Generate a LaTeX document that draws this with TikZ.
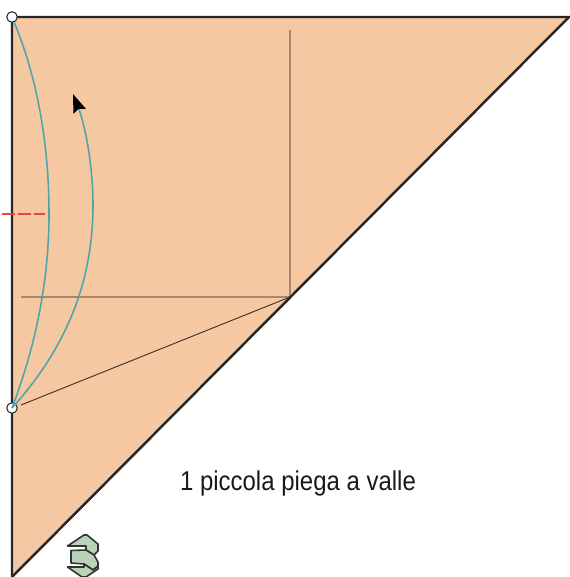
\documentclass[tikz,border=0pt]{standalone}
\usepackage{fontspec}
\setmainfont{Liberation Sans}
\usepackage{xcolor}
\definecolor{paperorange}{RGB}{245,200,162}
\definecolor{creasebrown}{RGB}{170,135,108}
\definecolor{curveteal}{RGB}{80,165,170}
\definecolor{markred}{RGB}{232,72,60}
\definecolor{icongreen}{RGB}{183,212,184}
\usetikzlibrary{arrows.meta, positioning}
\tikzset{
  pinhole/.style={draw=black!85, fill=white, circle, inner sep=0pt, minimum size=6pt, line width=0.6pt},
  crease/.style={draw=creasebrown, line width=1.25pt},
  thincrease/.style={draw=black!60!creasebrown, line width=0.55pt},
  movecurve/.style={draw=curveteal, line width=0.9pt},
  iconpart/.style={draw=black!80, fill=icongreen, line width=0.9pt, line join=round}
}
\begin{document}
\begin{tikzpicture}[x=0.02cm, y=-0.02cm]
  \useasboundingbox (0,0) rectangle (570,577);

  % Paper
  \coordinate (topleft) at (12,17);
  \coordinate (topright) at (569,17);
  \coordinate (bottomleft) at (12,577);
  \fill[paperorange] (topleft) -- (topright) -- (bottomleft) -- cycle;

  % Creases
  \coordinate (corner) at (290,297);
  \coordinate (creasetop) at (290,30);
  \coordinate (creaseleft) at (21,297);
  \coordinate (creasefoot) at (21,405);
  \draw[crease, line width=0.9pt] (creasetop) -- (corner);
  \draw[crease] (creaseleft) -- (corner);
  \draw[thincrease] (creasefoot) -- (corner);

  % Outline
  \draw[black!85, line width=1.4pt, line join=miter] (bottomleft) -- (topleft) -- (topright) -- cycle;

  % Pivot points
  \node[pinhole] (pintop) at (12,17) {};
  \node[pinhole] (pinfoot) at (12,408) {};

  % Fold curves
  \draw[movecurve] (pinfoot.center) .. controls (36,345) and (49,280) .. (49,214)
    .. controls (49,140) and (36,75) .. (pintop);
  \coordinate (arrowtip) at (73,94);
  \draw[movecurve, -{Stealth[black, length=10.5pt, width=7.5pt, inset=1.5pt]}] (pinfoot.center)
    .. controls (60,355) and (93,290) .. (93,205) .. controls (93,165) and (85,125) .. (arrowtip);

  % Red mark
  \coordinate (markleft) at (2,214);
  \coordinate (markright) at (45,214);
  \draw[markred, line width=1.2pt, dash pattern=on 7.2pt off 2pt] (markleft) -- (markright);

  % Label
  \node[font=\fontsize{15.5pt}{18pt}\selectfont, black!90, anchor=base, xscale=0.88] (caption) at (298,490) {1 piccola piega a valle};

  % Small icon
  \draw[iconpart] (67.5,546) -- (84,535) -- (87,535) -- (98,544) -- (98,551) -- (94,555) -- (86,550) -- (86,546) -- cycle;
  \draw[iconpart] (71,550.5) -- (86,550) -- (94,555) -- (98,562) -- (98,566) -- (93,570) -- (84,564) -- (71,563) -- cycle;
  \draw[iconpart] (67.5,567) -- (84,567) -- (84,564) -- (93,570) -- (98,566) -- (98,569) -- (86,577) -- (82,577) -- cycle;
\end{tikzpicture}
\end{document}
